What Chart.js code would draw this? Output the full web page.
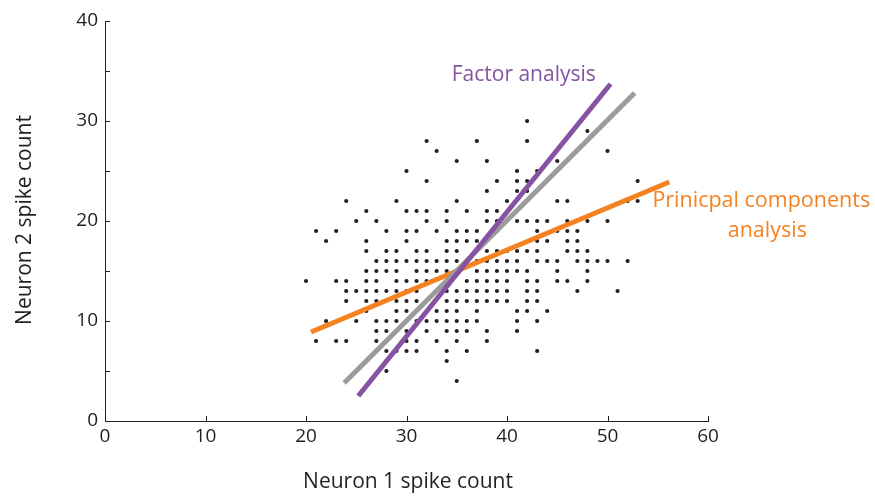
<!DOCTYPE html>
<html>
<head>
<meta charset="utf-8">
<script src="https://cdn.jsdelivr.net/npm/chart.js@4/dist/chart.umd.min.js"></script>
<style>
  html, body { margin: 0; padding: 0; background: #fff; }
  #wrap { width: 875px; height: 497px; }
</style>
</head>
<body>
<div id="wrap"><canvas id="chart" width="875" height="497"></canvas></div>
<script>
// axis ticks
const xTicks = [0, 10, 20, 30, 40, 50, 60];
const yTicks = [0, 10, 20, 30, 40];
const yMinorTicks = [5, 15, 25, 35];

// spike counts: neuron 2 level -> neuron 1 counts at that level
const neuron2Levels = [30, 29, 28, 27, 26, 25, 24, 23, 22, 21, 20, 19, 18, 17, 16, 15, 14, 13, 12, 11, 10, 9, 8, 7, 6, 5, 4];
const neuron1ByLevel = [
  [42],
  [48],
  [32, 37, 42],
  [33, 50],
  [35, 38, 45],
  [30, 41, 43],
  [32, 39, 41, 42, 53],
  [38, 41, 42],
  [24, 29, 35, 40, 45, 46, 52, 53],
  [26, 30, 31, 32, 34, 36, 38, 39],
  [25, 27, 32, 34, 38, 39, 41, 42, 43, 44, 46, 48, 50],
  [21, 23, 28, 30, 31, 33, 35, 36, 37, 39, 43, 45, 46, 47],
  [22, 26, 30, 34, 35, 36, 37, 43, 44, 46, 47],
  [26, 28, 29, 31, 32, 34, 35, 38, 39, 40, 41, 42, 43, 46, 47, 48],
  [27, 28, 29, 30, 31, 32, 33, 34, 35, 37, 38, 39, 40, 41, 43, 44, 45, 47, 48, 49, 50, 52],
  [26, 27, 28, 29, 31, 32, 33, 34, 37, 38, 39, 40, 41, 42, 45, 48],
  [20, 23, 24, 26, 27, 29, 30, 31, 32, 36, 37, 38, 39, 40, 42, 43, 45, 46, 48],
  [24, 25, 26, 27, 28, 29, 30, 31, 33, 34, 35, 36, 37, 38, 39, 40, 42, 43, 47, 51],
  [24, 26, 27, 29, 30, 31, 34, 35, 36, 37, 38, 39, 40, 42, 43],
  [26, 29, 30, 33, 34, 35, 37, 41, 42, 44],
  [22, 25, 27, 28, 29, 31, 32, 33, 34, 35, 36, 37, 41, 43],
  [27, 28, 30, 32, 34, 35, 36, 38, 41],
  [21, 23, 24, 27, 30, 31, 33, 35, 38],
  [28, 29, 30, 31, 34, 36, 43],
  [34],
  [28],
  [35]
];

// fitted lines, end points in spike counts
const pcaLine = [[20.5, 8.9], [56.15, 23.9]];
const diagLine = [[23.8, 3.8], [52.7, 32.8]];
const faLine = [[25.2, 2.5], [50.3, 33.7]];

const INK = '#231f20';
const PURPLE = '#8652a1';
const ORANGE = '#f58220';
const GREY = '#9b9b9b';
const FONT = '"Open Sans", "Noto Sans", sans-serif';

const dots = [];
neuron2Levels.forEach((y, i) => {
  neuron1ByLevel[i].forEach(x => dots.push({ x: x, y: y }));
});
const toPts = arr => arr.map(p => ({ x: p[0], y: p[1] }));

// inward tick marks, minor ticks and text labels
const decorPlugin = {
  id: 'decor',
  afterDraw(chart) {
    const ctx = chart.ctx;
    const xs = chart.scales.x;
    const ys = chart.scales.y;
    const area = chart.chartArea;
    ctx.save();
    ctx.strokeStyle = INK;
    ctx.lineWidth = 1;
    ctx.beginPath();
    xTicks.forEach(v => {
      const px = Math.round(xs.getPixelForValue(v)) + 0.5;
      ctx.moveTo(px, area.bottom);
      ctx.lineTo(px, area.bottom - 5);
    });
    yTicks.concat(yMinorTicks).forEach(v => {
      const py = Math.round(ys.getPixelForValue(v)) + 0.5;
      ctx.moveTo(area.left, py);
      ctx.lineTo(area.left + 5, py);
    });
    ctx.stroke();

    // axis titles
    ctx.fillStyle = INK;
    ctx.font = '21px ' + FONT;
    ctx.textAlign = 'center';
    ctx.textBaseline = 'middle';
    ctx.fillText('Neuron 1 spike count', 408, 482);
    ctx.save();
    ctx.translate(25, ys.getPixelForValue(20.1));
    ctx.rotate(-Math.PI / 2);
    ctx.fillText('Neuron 2 spike count', 0, 0);
    ctx.restore();

    // line labels
    ctx.font = '21px ' + FONT;
    ctx.fillStyle = PURPLE;
    ctx.textAlign = 'left';
    ctx.fillText('Factor analysis', xs.getPixelForValue(34.5), ys.getPixelForValue(34.6));
    ctx.fillStyle = ORANGE;
    ctx.font = '21.5px ' + FONT;
    ctx.textAlign = 'center';
    ctx.fillText('Prinicpal components', xs.getPixelForValue(65.3), ys.getPixelForValue(22));
    ctx.fillText('analysis', xs.getPixelForValue(65.9), ys.getPixelForValue(19));
    ctx.restore();
  }
};

new Chart(document.getElementById('chart').getContext('2d'), {
  type: 'scatter',
  data: {
    datasets: [
      { label: 'Trials', data: dots, pointRadius: 2.1, pointBackgroundColor: INK, pointBorderWidth: 0, order: 4 },
      { label: 'PCA', data: toPts(pcaLine), showLine: true, borderColor: ORANGE, borderWidth: 5, pointRadius: 0, order: 3 },
      { label: 'Diagonal', data: toPts(diagLine), showLine: true, borderColor: GREY, borderWidth: 5, pointRadius: 0, order: 2 },
      { label: 'Factor analysis', data: toPts(faLine), showLine: true, borderColor: PURPLE, borderWidth: 5, pointRadius: 0, order: 1 }
    ]
  },
  options: {
    responsive: false,
    animation: false,
    layout: { padding: { left: 0, right: 167, top: 21, bottom: 0 } },
    plugins: { legend: { display: false }, tooltip: { enabled: false } },
    scales: {
      x: {
        type: 'linear', min: 0, max: 60,
        afterFit(scale) { scale.height = 76; },
        afterBuildTicks(scale) { scale.ticks = xTicks.map(v => ({ value: v })); },
        grid: { display: true, drawOnChartArea: false, drawTicks: false },
        border: { display: true, color: INK, width: 1 },
        ticks: { color: INK, font: { family: FONT, size: 19 }, padding: 4, maxRotation: 0 }
      },
      y: {
        type: 'linear', min: 0, max: 40,
        afterFit(scale) { scale.width = 105; },
        afterBuildTicks(scale) { scale.ticks = yTicks.map(v => ({ value: v })); },
        grid: { display: true, drawOnChartArea: false, drawTicks: false },
        border: { display: true, color: INK, width: 1 },
        ticks: { color: INK, font: { family: FONT, size: 19 }, padding: 7 }
      }
    }
  },
  plugins: [decorPlugin]
});
</script>
</body>
</html>
